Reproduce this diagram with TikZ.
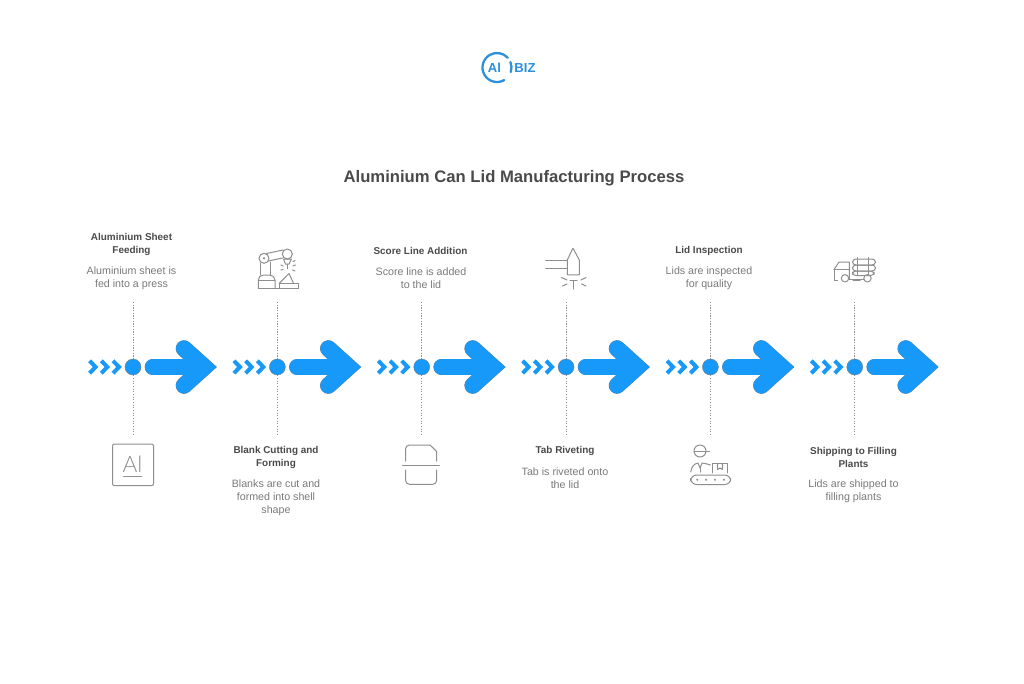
\documentclass[tikz,border=0pt]{standalone}
\usepackage{fontspec}
\setmainfont{Liberation Sans}
\newfontfamily\lightfont{Lato Light}
\definecolor{bluefill}{HTML}{1699F8}
\definecolor{logoblue}{HTML}{2A8FDC}
\definecolor{headtext}{HTML}{4A4A4A}
\definecolor{desctext}{HTML}{7A7A7A}
\definecolor{icongray}{HTML}{8E8E8E}
\definecolor{edgegray}{HTML}{6F7F8C}
\tikzset{
  x=0.75pt,y=-0.75pt,
  headlabel/.style={font=\fontsize{7.45}{9.75}\selectfont\bfseries,text=headtext,align=center,inner sep=0pt},
  desclabel/.style={font=\fontsize{8}{9.75}\selectfont,text=desctext,align=center,inner sep=0pt},
  titlelabel/.style={font=\fontsize{12.5}{16}\selectfont\bfseries,text=headtext,inner sep=0pt},
  logolabel/.style={inner sep=0pt,font=\fontsize{9.8}{12}\selectfont\bfseries,text=logoblue},
  logoring/.style={logoblue,line width=1.7pt,line cap=round},
  dotline/.style={draw=icongray,line width=0.7pt,dash pattern=on 0.9pt off 1.1pt},
  icon/.style={draw=icongray,line width=0.75pt,line join=round,line cap=round},
  hubdot/.style={circle,fill=bluefill,draw=edgegray,line width=0.3pt,minimum size=12pt,inner sep=0pt},
  chev/.style={draw=bluefill,line width=3pt,line join=miter},
  bigarrowedge/.style={draw=edgegray,line width=12.5pt,line cap=round,miter limit=4},
  bigarrowfill/.style={draw=bluefill,line width=12pt,line cap=round,miter limit=4},
}
\begin{document}
\begin{tikzpicture}
\useasboundingbox (0,0) rectangle (1024,683);
\fill[white] (0,0) rectangle (1024,683);
% logo
\coordinate (logoc) at (497,67.5);
\draw[logoring] (logoc) ++(-60:14.5 and -14.5) arc[start angle=-60,end angle=-318,x radius=14.5,y radius=-14.5];
\draw[logoring] (logoc) ++(22:14.5 and -14.5) arc[start angle=22,end angle=-18,x radius=14.5,y radius=-14.5];
\node[logolabel] (logoa) at (494.5,67.5) {Al};
\node[logolabel] (logob) at (525,67.5) {BIZ};
% title
\node[titlelabel] (title) at (514,178.5) {Aluminium Can Lid Manufacturing Process};
% steps
\foreach \i/\x in {1/133,2/277.35,3/421.7,4/566.05,5/710.4,6/854.75}{
  \coordinate (top\i) at (\x,302);
  \coordinate (bot\i) at (\x,435);
  \node[hubdot] (dot\i) at (\x,367) {};
  \draw[dotline] (top\i) -- (dot\i);
  \draw[dotline] (dot\i) -- (bot\i);
  \foreach \d in {-40,-28.3,-16.6}{
    \draw[chev] (\x+\d-3.4,360.8) -- (\x+\d+2.6,367) -- (\x+\d-3.4,373.2);
  }
  \draw[bigarrowedge] (\x+20,367) -- (\x+68,367);
  \draw[bigarrowedge] (\x+51,348.5) -- (\x+71.5,367) -- (\x+51,385.5);
  \draw[bigarrowfill] (\x+20,367) -- (\x+68,367);
  \draw[bigarrowfill] (\x+51,348.5) -- (\x+71.5,367) -- (\x+51,385.5);
}
% labels
\node[headlabel] (h1) at (131.5,244.5) {Aluminium Sheet\\Feeding};
\node[desclabel] (d1) at (131.5,278.5) {Aluminium sheet is\\fed into a press};
\node[headlabel] (h2) at (276,457.5) {Blank Cutting and\\Forming};
\node[desclabel] (d2) at (276,497.5) {Blanks are cut and\\formed into shell\\shape};
\node[headlabel] (h3) at (420.5,251) {Score Line Addition};
\node[desclabel] (d3) at (421,278.5) {Score line is added\\to the lid};
\node[headlabel] (h4) at (565,451) {Tab Riveting};
\node[desclabel] (d4) at (565,478.5) {Tab is riveted onto\\the lid};
\node[headlabel] (h5) at (709,251) {Lid Inspection};
\node[desclabel] (d5) at (709,278.5) {Lids are inspected\\for quality};
\node[headlabel] (h6) at (853.5,457.5) {Shipping to Filling\\Plants};
\node[desclabel] (d6) at (853.5,491.5) {Lids are shipped to\\filling plants};
% icon 1: Al box
\draw[icon,rounded corners=1.5pt] (112.5,444) rectangle (153.5,485.7);
\node[inner sep=0pt,font=\fontsize{17}{17}\selectfont\lightfont,text=icongray] (alsym) at (132.5,464.5) {Al};
\draw[icon] (123.5,476.5) -- (141.5,476.5);
% icon 2: robot
\draw[icon] (258.3,288.5) -- (298.3,288.5);
\draw[icon,rounded corners=1.5pt] (258.3,288.5) -- (258.3,278) -- (261.5,275) -- (271.5,275) -- (275,278) -- (275,288.5);
\draw[icon] (258.3,280) -- (275,280);
\draw[icon] (260.7,275) -- (260.7,263);
\draw[icon] (270.7,275) -- (270.7,262);
\draw[icon] (264,258.3) circle[radius=5];
\draw[icon] (264,258.3) circle[radius=0.7];
\draw[icon] (266.5,253.5) -- (283,250);
\draw[icon] (268.5,261) -- (282.5,258);
\draw[icon] (287.3,254) circle[radius=5];
\draw[icon] (283.5,259) -- (291.5,259) -- (289,264) -- (285.5,264) -- cycle;
\draw[icon] (287.3,264) -- (287.3,268.5);
\draw[icon] (279.3,283.3) -- (289,273.5) -- (293.5,283.3);
\draw[icon] (279.3,288.5) -- (279.3,283.3) -- (298.3,283.3) -- (298.3,288.5);
\draw[icon] (281,265) -- (283,266) (281,270) -- (283,269.5) (293,266) -- (295.5,265) (292.5,270) -- (295,271) (293,261.5) -- (295,260.5);
% icon 3: score lid
\draw[icon] (402.7,465) -- (439.3,465);
\draw[icon,rounded corners=3pt] (405.5,461) -- (405.5,445) -- (430,445);
\draw[icon] (430,445) -- (436.7,451.5) -- (436.7,461);
\draw[icon,rounded corners=3pt] (405.5,470) -- (405.5,484.3) -- (436.7,484.3) -- (436.7,470);
% icon 4: rivet
\draw[icon] (567.3,274.8) -- (567.3,260) -- (572,250) -- (573,248.3) -- (574,250) -- (579.3,260) -- (579.3,274.8) -- cycle;
\draw[icon] (545.7,260) -- (567.3,260);
\draw[icon] (545.7,268.3) -- (567.3,268.3);
\draw[icon] (570,280.7) -- (577,280.7);
\draw[icon] (573.5,280.7) -- (573.5,289);
\draw[icon] (561.5,277.5) -- (567,280) (586,277.5) -- (581,280) (562.5,286) -- (567,284) (586,286) -- (581.5,284);
% icon 5: inspector
\draw[icon] (700,451) circle[radius=6];
\draw[icon] (694,451) -- (709.3,451);
\draw[icon] (690.7,472) .. controls (691.5,466.5) and (694,463.8) .. (698,463) -- (700,468) -- (702,463) .. controls (705,463.5) and (708,464) .. (710.5,465);
\draw[icon] (700,468) -- (700,472);
\draw[icon] (712.3,472.8) -- (712.3,463.3) -- (727.3,463.3) -- (727.3,472.8);
\draw[icon] (717.5,463.3) -- (717.5,469.5) -- (720,468) -- (722.3,469.5) -- (722.3,463.3);
\draw[icon,rounded corners=4.5pt] (690.7,475) rectangle (730.7,484.5);
\foreach \p in {697.3,706,715,724}{ \fill[icongray] (\p,479.7) circle[radius=1.1]; }
% icon 6: truck
\draw[icon] (834,269.5) -- (839,262) -- (849.3,262) -- (849.3,279);
\draw[icon] (834,269.5) -- (849.3,269.5);
\draw[icon] (834,269.5) -- (834,280) -- (837.5,280);
\draw[icon] (845,278.3) circle[radius=3.7];
\draw[icon] (867.5,278.3) circle[radius=3.7];
\draw[icon] (849.3,279) -- (863.5,279);
\draw[icon] (853,280.3) -- (860,280.3);
\draw[icon,rounded corners=2.5pt] (852.5,259) rectangle (875.5,265);
\draw[icon,rounded corners=2.5pt] (852.5,265) rectangle (875.5,271);
\draw[icon,rounded corners=2.5pt] (852.5,271) rectangle (874,275.5);
\draw[icon] (857.5,257.5) -- (857.5,275.5);
\draw[icon] (868.5,257.5) -- (868.5,275.5);
\end{tikzpicture}
\end{document}
